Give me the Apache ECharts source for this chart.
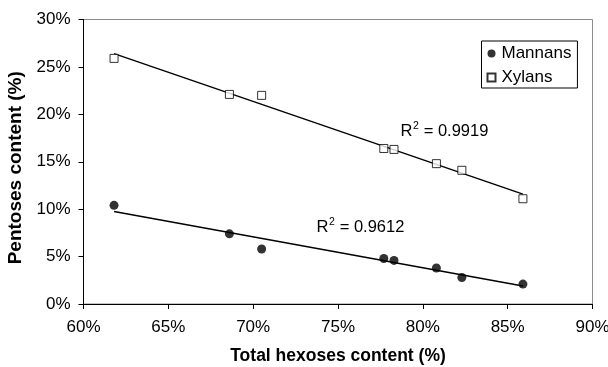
<!DOCTYPE html>
<html>
<head>
<meta charset="utf-8">
<script src="https://cdn.jsdelivr.net/npm/echarts@6/dist/echarts.min.js"></script>
<style>
  html, body { margin: 0; padding: 0; background: #fff; }
  #chart { width: 608px; height: 367px; }
</style>
</head>
<body>
<div id="chart"></div>
<script>
// values (percent)
const hexoses = [61.8, 68.6, 70.5, 77.7, 78.3, 80.8, 82.3, 85.9];
const mannans = [10.4, 7.4, 5.8, 4.8, 4.6, 3.8, 2.8, 2.1];
const xylans = [25.9, 22.1, 22.0, 16.4, 16.3, 14.8, 14.1, 11.1];
const r2Labels = ["0.9919", "0.9612"];

// least squares trendline across the data range
function trend(xs, ys) {
  const n = xs.length;
  const mx = xs.reduce((a, b) => a + b, 0) / n;
  const my = ys.reduce((a, b) => a + b, 0) / n;
  let sxy = 0, sxx = 0;
  for (let i = 0; i < n; i++) {
    sxy += (xs[i] - mx) * (ys[i] - my);
    sxx += (xs[i] - mx) * (xs[i] - mx);
  }
  const b = sxy / sxx, a = my - b * mx;
  const x0 = Math.min(...xs), x1 = Math.max(...xs);
  return [[x0, a + b * x0], [x1, a + b * x1]];
}

const font = "'Liberation Sans', Arial, sans-serif";

// "R² = value" label built from three pieces so the 2 sits high
function r2Label(x, y, value) {
  return {
    type: "group", x: x, y: y,
    children: [
      { type: "text", x: 0, y: 0, style: { text: "R", font: "16.5px " + font, fill: "#000", verticalAlign: "middle" } },
      { type: "text", x: 12.4, y: -5, style: { text: "2", font: "10.5px " + font, fill: "#000", verticalAlign: "middle" } },
      { type: "text", x: 18.6, y: 0, style: { text: " = " + value, font: "16.5px " + font, fill: "#000", verticalAlign: "middle" } }
    ]
  };
}

const chart = echarts.init(document.getElementById("chart"));

const option = {
  animation: false,
  grid: {
    left: 83.5, right: 15.5, top: 19.5, bottom: 63,
    outerBoundsMode: "none",
    show: true, borderColor: "#8c8c8c", borderWidth: 1
  },
  xAxis: {
    type: "value", min: 60, max: 90, interval: 5,
    name: "Total hexoses content (%)",
    nameLocation: "middle", nameGap: 43,
    nameTextStyle: { fontFamily: font, fontSize: 17.5, fontWeight: "bold", color: "#000" },
    axisLine: { lineStyle: { color: "#000", width: 1 } },
    axisTick: { show: true, length: 5, lineStyle: { color: "#000" } },
    axisLabel: { formatter: "{value}%", fontFamily: font, fontSize: 17, color: "#000", margin: 15 },
    splitLine: { show: false }
  },
  yAxis: {
    type: "value", min: 0, max: 30, interval: 5,
    name: "Pentoses content (%)",
    nameLocation: "middle", nameGap: 49, nameRotate: 90,
    nameTextStyle: { fontFamily: font, fontSize: 19, fontWeight: "bold", color: "#000", padding: [0, 12, 0, 0] },
    axisLine: { show: true, lineStyle: { color: "#000", width: 1 } },
    axisTick: { show: true, length: 5, lineStyle: { color: "#000" } },
    axisLabel: { formatter: "{value}%", fontFamily: font, fontSize: 17, color: "#000", margin: 13 },
    splitLine: { show: false }
  },
  legend: {
    orient: "vertical",
    left: 481.5, top: 41,
    backgroundColor: "#fff",
    borderColor: "#000", borderWidth: 1, borderRadius: 0,
    padding: [4, 6, 2, 5],
    itemGap: 7,
    itemWidth: 8, itemHeight: 8,
    textStyle: { fontFamily: font, fontSize: 17, color: "#000", padding: [0, 0, 0, 1] },
    data: [
      { name: "Mannans", icon: "circle" },
      { name: "Xylans", icon: "rect" }
    ]
  },
  series: [
    {
      name: "Mannans", type: "scatter", symbol: "circle", symbolSize: 9,
      itemStyle: { color: "#000" },
      data: hexoses.map((x, i) => [x, mannans[i]]), z: 5
    },
    {
      name: "Xylans", type: "scatter", symbol: "rect", symbolSize: 8,
      itemStyle: { color: "#fff", borderColor: "#000", borderWidth: 1 },
      data: hexoses.map((x, i) => [x, xylans[i]]), z: 5
    },
    {
      type: "line", symbol: "none", silent: true,
      lineStyle: { color: "#000", width: 1.5 },
      data: trend(hexoses, mannans), z: 3
    },
    {
      type: "line", symbol: "none", silent: true,
      lineStyle: { color: "#000", width: 1.5 },
      data: trend(hexoses, xylans), z: 3
    }
  ],
  graphic: [
    r2Label(400.5, 131, r2Labels[0]),
    r2Label(316.5, 227, r2Labels[1])
  ]
};
chart.setOption(option);
</script>
</body>
</html>
